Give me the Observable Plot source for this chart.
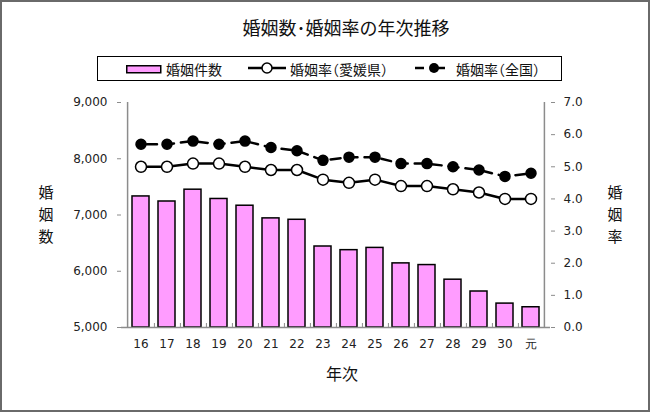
<!DOCTYPE html>
<html>
<head>
<meta charset="utf-8">
<script src="https://cdn.jsdelivr.net/npm/d3@7"></script>
<script src="https://cdn.jsdelivr.net/npm/@observablehq/plot@0.6"></script>
<style>
  html, body { margin: 0; padding: 0; background: #fff; }
  #wrap { position: relative; width: 650px; height: 412px; overflow: hidden; background: #fff;
          font-family: "Noto Sans CJK JP", "Noto Sans", sans-serif; color: #111; }
  #border { position: absolute; left: 0; top: 0; width: 650px; height: 412px; box-sizing: border-box;
            border: 2px solid #6a6a6a; pointer-events: none; }
  .abs { position: absolute; white-space: nowrap; line-height: 1; }
  #title { left: 346px; top: 18px; transform: translateX(-50%); font-size: 18px; }
  #legend { left: 97px; top: 56px; width: 465px; height: 25px; box-sizing: border-box; border: 1px solid #000; }
  .lg { font-size: 14px; font-feature-settings: "halt"; top: 62px; }
  .vch { font-size: 15px; line-height: 15px; width: 20px; text-align: center; }
  svg.plot { position: absolute; left: 0; top: 0; }
</style>
</head>
<body>
<div id="wrap">
  <div id="chart"></div>
  <div id="title" class="abs">婚姻数･婚姻率の年次推移</div>
  <div id="legend" class="abs"></div>
  <svg class="abs" style="left:126px;top:65px" width="36" height="9"><rect x="0.75" y="0.75" width="34" height="7" fill="#ff9cff" stroke="#000" stroke-width="1.5"/></svg>
  <div class="abs lg" style="left:166px">婚姻件数</div>
  <svg class="abs" style="left:247px;top:61px" width="40" height="14"><line x1="1" y1="7" x2="39" y2="7" stroke="#000" stroke-width="2.5"/><circle cx="20" cy="7" r="5" fill="#fff" stroke="#000" stroke-width="1.5"/></svg>
  <div class="abs lg" style="left:290px">婚姻率（愛媛県）</div>
  <svg class="abs" style="left:414px;top:61px" width="32" height="14"><line x1="1" y1="7" x2="10" y2="7" stroke="#000" stroke-width="2.5"/><line x1="16" y1="7" x2="31" y2="7" stroke="#000" stroke-width="2.5"/><circle cx="20" cy="7" r="5" fill="#000"/></svg>
  <div class="abs lg" style="left:456px">婚姻率（全国）</div>
  <div class="abs vch" style="left:36px;top:184px">婚</div>
  <div class="abs vch" style="left:36px;top:206px">姻</div>
  <div class="abs vch" style="left:36px;top:228px">数</div>
  <div class="abs vch" style="left:605px;top:184px">婚</div>
  <div class="abs vch" style="left:605px;top:206px">姻</div>
  <div class="abs vch" style="left:605px;top:228px">率</div>
  <div class="abs" style="left:342px;top:365px;transform:translateX(-50%);font-size:16px">年次</div>
  <div id="border"></div>
</div>
<script>
// ---- data ----
const years = ["16","17","18","19","20","21","22","23","24","25","26","27","28","29","30","元"];
const marriages = [7330, 7240, 7450, 7285, 7165, 6940, 6915, 6440, 6375, 6415, 6140, 6110, 5850, 5640, 5425, 5360];
const rateEhime = [5.0, 5.0, 5.1, 5.1, 5.0, 4.9, 4.9, 4.6, 4.5, 4.6, 4.4, 4.4, 4.3, 4.2, 4.0, 4.0];
const rateJapan = [5.7, 5.7, 5.8, 5.7, 5.8, 5.6, 5.5, 5.2, 5.3, 5.3, 5.1, 5.1, 5.0, 4.9, 4.7, 4.8];
const leftTicks = [5000, 6000, 7000, 8000, 9000];
const rightTicks = [0, 1, 2, 3, 4, 5, 6, 7];

// ---- layout ----
const W = 650, H = 412;
const mL = 121, mR = 100, mT = 102, mB = 85;
const yMin = 5000, yMax = 9000, rMax = 7;
const toY = r => yMin + r * (yMax - yMin) / rMax;
const step = (W - mL - mR) / years.length;
const half = step / 2;
const frameH = H - mT - mB;

const rows = years.map((y, i) => ({year: y, n: marriages[i], e: toY(rateEhime[i]), j: toY(rateJapan[i])}));
const axisColor = "#8c8c8c";

const chart = Plot.plot({
  width: W, height: H,
  marginLeft: mL, marginRight: mR, marginTop: mT, marginBottom: mB,
  style: {fontFamily: "DejaVu Sans, sans-serif", fontSize: "12px", color: "#222", background: "transparent"},
  x: {domain: years, paddingInner: 0.33, paddingOuter: 0.165, label: null},
  y: {domain: [yMin, yMax], label: null},
  marks: [
    Plot.barY(rows, {x: "year", y1: yMin, y2: "n", fill: "#ff9cff", stroke: "#000", strokeWidth: 1.5}),
    // axis lines
    Plot.ruleY([yMin], {stroke: axisColor, strokeWidth: 1.5}),
    Plot.ruleX([years[0]], {dx: -half, stroke: axisColor, strokeWidth: 1.5}),
    Plot.ruleX([years[years.length - 1]], {dx: half, stroke: axisColor, strokeWidth: 1.5}),
    // category boundary ticks
    Plot.ruleX(years.slice(0, -1), {dx: half, insetTop: frameH - 4, stroke: axisColor}),
    Plot.axisX({tickSize: 0, tickPadding: 12, label: null}),
    Plot.axisY(leftTicks, {anchor: "left", tickSize: 4, tickPadding: 10, stroke: axisColor,
      tickFormat: d3.format(","), label: null}),
    Plot.axisY(rightTicks.map(toY), {anchor: "right", tickSize: 4, tickPadding: 9, stroke: axisColor,
      tickFormat: d => ((d - yMin) * rMax / (yMax - yMin)).toFixed(1), label: null}),
    // national rate
    Plot.line(rows, {x: "year", y: "j", stroke: "#000", strokeWidth: 2.5, strokeDasharray: "10,7", strokeDashoffset: -6}),
    Plot.dot(rows, {x: "year", y: "j", r: 5, fill: "#000", stroke: "#000"}),
    // Ehime rate
    Plot.line(rows, {x: "year", y: "e", stroke: "#000", strokeWidth: 2.5}),
    Plot.dot(rows, {x: "year", y: "e", r: 5.5, fill: "#fff", stroke: "#000", strokeWidth: 1.5})
  ]
});
document.getElementById("chart").appendChild(chart);
</script>
</body>
</html>
